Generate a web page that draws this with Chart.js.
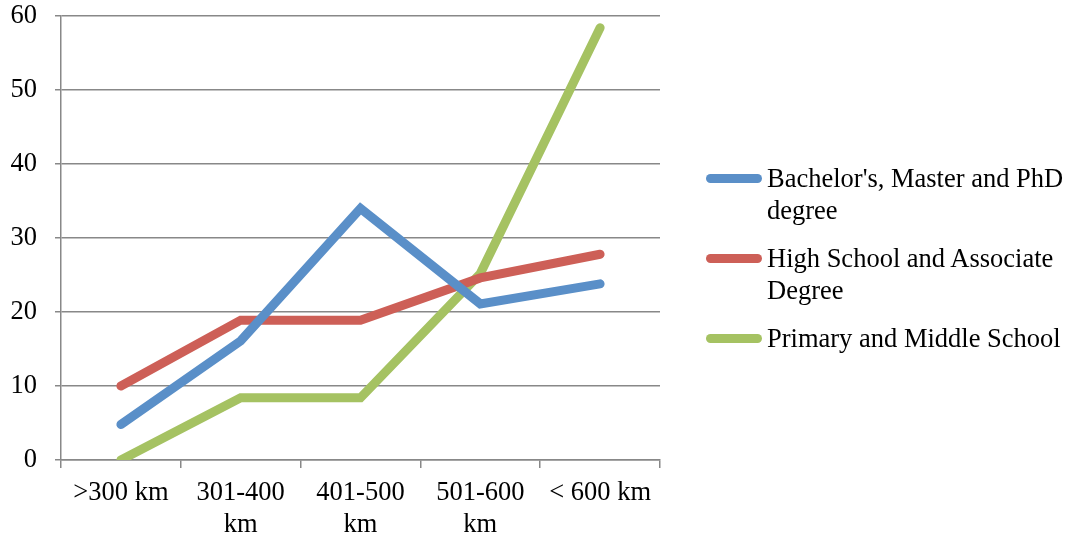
<!DOCTYPE html>
<html>
<head>
<meta charset="utf-8">
<script src="https://cdn.jsdelivr.net/npm/chart.js@4"></script>
<style>
  html, body { margin: 0; padding: 0; background: #fff; }
  #wrap { position: relative; width: 1075px; height: 539px; }
  #legend { position: absolute; left: 706px; top: 162px; font-family: "Liberation Serif", serif; font-size: 26.5px; color: #000; }
  .item { display: flex; align-items: flex-start; margin-bottom: 16px; line-height: 32px; }
  .sw { width: 56px; height: 9px; border-radius: 4.5px; margin-top: 12px; margin-right: 5px; flex: none; }
  .txt { width: 320px; }
</style>
</head>
<body>
<div id="wrap">
  <canvas id="chart" width="1075" height="539"></canvas>
  <div id="legend"></div>
</div>
<script>
const categories = ['>300 km', ['301-400', 'km'], ['401-500', 'km'], ['501-600', 'km'], '< 600 km'];
const seriesNames = ["Bachelor's, Master and PhD degree", 'High School and Associate Degree', 'Primary and Middle School'];
const bachelor = [4.8, 16.1, 34.0, 21.1, 23.8];
const highSchool = [10.0, 18.9, 18.9, 24.6, 27.8];
const primary = [0, 8.4, 8.4, 25.2, 58.4];
const colors = ['#5A8FC8', '#CD5F57', '#A5C262'];

const font = { family: 'Liberation Serif', size: 26.5 };

const chart = new Chart(document.getElementById('chart'), {
  type: 'line',
  data: {
    labels: categories,
    datasets: [bachelor, highSchool, primary].map((d, i) => ({
      label: seriesNames[i],
      data: d,
      borderColor: colors[i],
      backgroundColor: colors[i],
      borderWidth: 9,
      borderCapStyle: 'round',
      pointRadius: 0,
      tension: 0,
      clip: { left: 10, right: 10, top: 10, bottom: 0 }
    }))
  },
  options: {
    responsive: false,
    animation: false,
    layout: { padding: { left: 0, right: 415, top: 16, bottom: 0 } },
    plugins: { legend: { display: false }, tooltip: { enabled: false } },
    scales: {
      x: {
        offset: true,
        grid: { offset: true, drawOnChartArea: false, drawTicks: true, tickLength: 8, color: '#888', lineWidth: 1.5 },
        border: { color: '#888', width: 1.5 },
        ticks: { color: '#000', font: { ...font, lineHeight: 1.22 }, padding: 9, maxRotation: 0, autoSkip: false },
        afterFit: s => { s.height = 79; }
      },
      y: {
        min: 0,
        max: 60,
        ticks: { stepSize: 10, color: '#000', font: font, padding: 18 },
        grid: { color: '#888', lineWidth: 1.5, tickLength: 6 },
        border: { color: '#888', width: 1.5 },
        afterFit: s => { s.width = 61; s.paddingTop = 0; s.paddingBottom = 0; }
      }
    }
  }
});

// html legend built from the datasets
const legend = document.getElementById('legend');
chart.data.datasets.forEach(ds => {
  const item = document.createElement('div');
  item.className = 'item';
  item.innerHTML = '<span class="sw" style="background:' + ds.borderColor + '"></span><span class="txt">' + ds.label + '</span>';
  legend.appendChild(item);
});
</script>
</body>
</html>
